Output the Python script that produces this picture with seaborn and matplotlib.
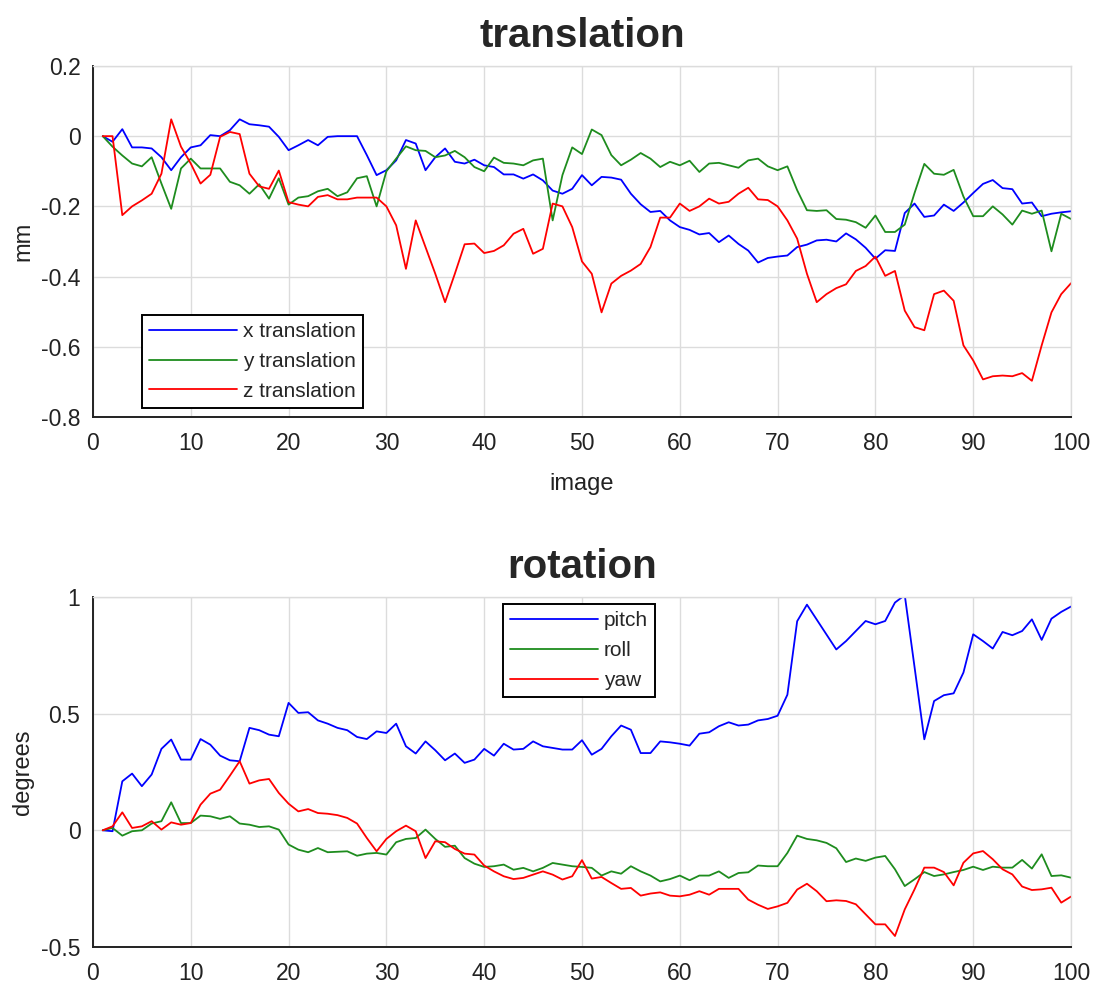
import numpy as np
import pandas as pd
import matplotlib
matplotlib.use("Agg")
import matplotlib.pyplot as plt
import seaborn as sns
from matplotlib.ticker import FuncFormatter

# ---------------- data ----------------
image_idx = list(range(1, 101))

x_translation = [
    0, -0.016, 0.02, -0.032, -0.032, -0.035, -0.06, -0.097, -0.06, -0.032,
    -0.026, 0.003, 0, 0.017, 0.048, 0.034, 0.031, 0.027, -0.002, -0.04,
    -0.026, -0.011, -0.026, -0.002, 0, 0, 0, -0.054, -0.111, -0.097,
    -0.069, -0.011, -0.021, -0.097, -0.06, -0.035, -0.073, -0.078, -0.067, -0.083,
    -0.088, -0.109, -0.109, -0.121, -0.109, -0.126, -0.155, -0.164, -0.15, -0.111,
    -0.14, -0.116, -0.118, -0.124, -0.164, -0.194, -0.216, -0.213, -0.24, -0.259,
    -0.267, -0.28, -0.276, -0.302, -0.283, -0.307, -0.326, -0.36, -0.347, -0.343,
    -0.34, -0.316, -0.309, -0.297, -0.295, -0.3, -0.277, -0.294, -0.318, -0.349,
    -0.325, -0.327, -0.219, -0.192, -0.23, -0.226, -0.195, -0.213, -0.189, -0.162,
    -0.136, -0.125, -0.148, -0.151, -0.192, -0.189, -0.228, -0.221, -0.217, -0.214,
]
y_translation = [
    0, -0.03, -0.055, -0.078, -0.086, -0.06, -0.135, -0.207, -0.092, -0.064,
    -0.092, -0.092, -0.092, -0.13, -0.14, -0.164, -0.137, -0.178, -0.12, -0.195,
    -0.175, -0.171, -0.157, -0.15, -0.171, -0.16, -0.12, -0.114, -0.2, -0.1,
    -0.064, -0.029, -0.04, -0.042, -0.06, -0.055, -0.042, -0.06, -0.088, -0.1,
    -0.061, -0.076, -0.078, -0.083, -0.069, -0.064, -0.24, -0.111, -0.032, -0.051,
    0.019, 0.003, -0.054, -0.083, -0.067, -0.048, -0.064, -0.088, -0.073, -0.083,
    -0.07, -0.102, -0.078, -0.076, -0.083, -0.09, -0.069, -0.064, -0.086, -0.097,
    -0.086, -0.154, -0.211, -0.213, -0.211, -0.236, -0.238, -0.245, -0.261, -0.226,
    -0.273, -0.273, -0.252, -0.162, -0.079, -0.107, -0.11, -0.096, -0.172, -0.228,
    -0.228, -0.2, -0.223, -0.252, -0.212, -0.221, -0.212, -0.328, -0.221, -0.236,
]
z_translation = [
    0, 0, -0.225, -0.2, -0.183, -0.164, -0.107, 0.048, -0.03, -0.078,
    -0.135, -0.11, -0.002, 0.012, 0.006, -0.107, -0.143, -0.15, -0.098, -0.188,
    -0.195, -0.2, -0.173, -0.168, -0.18, -0.18, -0.175, -0.175, -0.175, -0.2,
    -0.254, -0.378, -0.24, -0.316, -0.392, -0.473, -0.392, -0.308, -0.306, -0.333,
    -0.327, -0.311, -0.278, -0.264, -0.335, -0.321, -0.192, -0.2, -0.259, -0.357,
    -0.392, -0.502, -0.42, -0.398, -0.383, -0.364, -0.316, -0.232, -0.232, -0.192,
    -0.213, -0.2, -0.178, -0.192, -0.187, -0.164, -0.147, -0.18, -0.182, -0.2,
    -0.24, -0.292, -0.392, -0.473, -0.45, -0.433, -0.422, -0.384, -0.37, -0.343,
    -0.398, -0.384, -0.497, -0.544, -0.553, -0.45, -0.44, -0.469, -0.596, -0.639,
    -0.693, -0.684, -0.682, -0.684, -0.675, -0.697, -0.596, -0.502, -0.45, -0.419,
]

pitch = [
    0, -0.004, 0.21, 0.243, 0.189, 0.239, 0.349, 0.389, 0.303, 0.303,
    0.391, 0.367, 0.32, 0.3, 0.296, 0.439, 0.429, 0.41, 0.403, 0.546,
    0.503, 0.506, 0.471, 0.457, 0.439, 0.429, 0.4, 0.391, 0.424, 0.417,
    0.457, 0.36, 0.329, 0.381, 0.343, 0.3, 0.329, 0.289, 0.303, 0.349,
    0.32, 0.371, 0.346, 0.349, 0.381, 0.36, 0.353, 0.346, 0.346, 0.386,
    0.324, 0.349, 0.403, 0.449, 0.431, 0.331, 0.331, 0.381, 0.377, 0.371,
    0.363, 0.414, 0.42, 0.446, 0.463, 0.449, 0.453, 0.471, 0.477, 0.491,
    0.581, 0.896, 0.967, 0.903, 0.839, 0.775, 0.811, 0.854, 0.897, 0.883,
    0.897, 0.976, 1.008, 0.70, 0.39, 0.554, 0.579, 0.587, 0.676, 0.84,
    0.811, 0.779, 0.85, 0.836, 0.854, 0.904, 0.816, 0.907, 0.936, 0.959,
]
roll = [
    0, 0.01, -0.023, -0.004, 0, 0.029, 0.039, 0.12, 0.031, 0.031,
    0.063, 0.06, 0.049, 0.06, 0.029, 0.024, 0.014, 0.017, 0.003, -0.061,
    -0.083, -0.094, -0.076, -0.094, -0.092, -0.09, -0.109, -0.1, -0.097, -0.104,
    -0.051, -0.037, -0.033, 0.003, -0.037, -0.071, -0.066, -0.119, -0.143, -0.157,
    -0.154, -0.147, -0.169, -0.161, -0.176, -0.161, -0.14, -0.147, -0.154, -0.157,
    -0.161, -0.194, -0.176, -0.186, -0.154, -0.176, -0.194, -0.219, -0.209, -0.194,
    -0.214, -0.194, -0.194, -0.176, -0.204, -0.183, -0.18, -0.151, -0.154, -0.154,
    -0.097, -0.023, -0.037, -0.043, -0.054, -0.077, -0.136, -0.121, -0.131, -0.117,
    -0.11, -0.167, -0.239, -0.21, -0.179, -0.196, -0.189, -0.179, -0.17, -0.156,
    -0.17, -0.156, -0.16, -0.16, -0.127, -0.164, -0.103, -0.196, -0.193, -0.203,
]
yaw = [
    0, 0.017, 0.077, 0.01, 0.017, 0.039, 0.003, 0.034, 0.024, 0.031,
    0.11, 0.157, 0.174, 0.234, 0.296, 0.2, 0.214, 0.22, 0.16, 0.114,
    0.081, 0.091, 0.074, 0.071, 0.065, 0.053, 0.029, -0.033, -0.09, -0.037,
    -0.004, 0.02, -0.004, -0.119, -0.047, -0.051, -0.08, -0.1, -0.104, -0.151,
    -0.176, -0.197, -0.209, -0.204, -0.19, -0.176, -0.19, -0.211, -0.197, -0.128,
    -0.207, -0.2, -0.226, -0.251, -0.247, -0.28, -0.271, -0.266, -0.28, -0.283,
    -0.276, -0.261, -0.276, -0.251, -0.251, -0.251, -0.297, -0.319, -0.337, -0.326,
    -0.311, -0.254, -0.229, -0.261, -0.304, -0.3, -0.303, -0.317, -0.36, -0.403,
    -0.403, -0.453, -0.339, -0.253, -0.16, -0.16, -0.179, -0.236, -0.139, -0.099,
    -0.089, -0.124, -0.167, -0.189, -0.241, -0.256, -0.253, -0.246, -0.31, -0.284,
]

trans_labels = ["x translation", "y translation", "z translation"]
rot_labels = ["pitch", "roll", "yaw"]
x_ticks = list(range(0, 101, 10))
trans_yticks = [-0.8, -0.6, -0.4, -0.2, 0, 0.2]
rot_yticks = [-0.5, 0, 0.5, 1]

# ---------------- style ----------------
sns.set_theme(style="white")
plt.rcParams["font.family"] = ["Liberation Sans", "DejaVu Sans"]
plt.rcParams["axes.unicode_minus"] = False

line_colors = ["#0000FF", "#1E8C1E", "#FF0000"]
grid_color = "#DCDCDC"

fig = plt.figure(figsize=(10.95, 9.89), dpi=100)
ax1 = fig.add_axes([0.0849, 0.5784, 0.8932, 0.3549])
ax2 = fig.add_axes([0.0849, 0.0425, 0.8932, 0.3539])

trans_df = pd.DataFrame({"image": image_idx * 3,
                         "value": x_translation + y_translation + z_translation,
                         "series": sum([[l] * len(image_idx) for l in trans_labels], [])})
rot_df = pd.DataFrame({"image": image_idx * 3,
                       "value": pitch + roll + yaw,
                       "series": sum([[l] * len(image_idx) for l in rot_labels], [])})

sns.lineplot(data=trans_df, x="image", y="value", hue="series", hue_order=trans_labels,
             palette=line_colors, linewidth=1.3, ax=ax1)
sns.lineplot(data=rot_df, x="image", y="value", hue="series", hue_order=rot_labels,
             palette=line_colors, linewidth=1.3, ax=ax2)

fmt = FuncFormatter(lambda v, p: ("%g" % round(v, 6)))

for ax, yt, ylim in [(ax1, trans_yticks, (-0.8, 0.2)), (ax2, rot_yticks, (-0.5, 1.0))]:
    ax.set_xlim(0, 100)
    ax.set_ylim(*ylim)
    ax.set_xticks(x_ticks)
    ax.set_yticks(yt)
    ax.yaxis.set_major_formatter(fmt)
    ax.grid(True, color=grid_color, linewidth=1.0)
    ax.set_axisbelow(True)
    for s in ["top", "right"]:
        ax.spines[s].set_color(grid_color)
        ax.spines[s].set_linewidth(1.0)
    for s in ["left", "bottom"]:
        ax.spines[s].set_color("#222222")
        ax.spines[s].set_linewidth(1.4)
    ax.tick_params(axis="both", direction="in", length=5, width=1.2, color="#222222",
                   labelsize=16.5, labelcolor="#222222")
    ax.tick_params(axis="x", pad=11)
    ax.tick_params(axis="y", pad=9)

ax1.set_title("translation", fontsize=29, fontweight="bold", pad=14)
ax2.set_title("rotation", fontsize=29, fontweight="bold", pad=14)
ax1.set_xlabel("image", fontsize=17, labelpad=13, color="#222222")
ax1.set_ylabel("mm", fontsize=17, labelpad=5, color="#222222")
ax2.set_xlabel("")
ax2.set_ylabel("degrees", fontsize=17, labelpad=5, color="#222222")

leg_kw = dict(fontsize=15, frameon=True, fancybox=False, framealpha=1, edgecolor="black",
              borderaxespad=0, handlelength=4.2, labelspacing=0.52, borderpad=0.35,
              handletextpad=0.3, title=None)
h1, l1 = ax1.get_legend_handles_labels()
lg1 = ax1.legend(h1, l1, loc="upper left", bbox_to_anchor=(0.050, 0.291), **leg_kw)
h2, l2 = ax2.get_legend_handles_labels()
lg2 = ax2.legend(h2, l2, loc="upper left", bbox_to_anchor=(0.419, 0.98), **leg_kw)
for lg in (lg1, lg2):
    lg.get_frame().set_linewidth(1.4)

fig.savefig("out.png", dpi=100)
